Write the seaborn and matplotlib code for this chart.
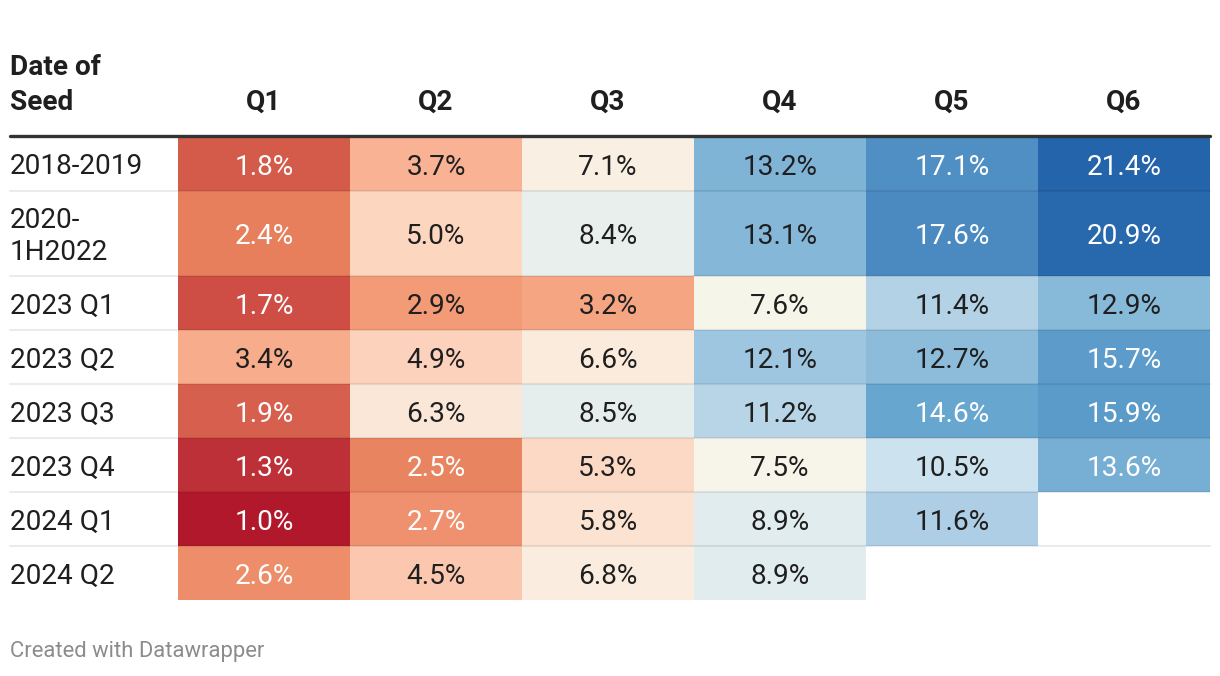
import numpy as np
import pandas as pd
import seaborn as sns
import matplotlib.pyplot as plt
from matplotlib.colors import LinearSegmentedColormap
from matplotlib.lines import Line2D
from matplotlib.transforms import offset_copy

# table data
seed_dates = ["2018-2019", "2020-\n1H2022", "2023 Q1", "2023 Q2",
              "2023 Q3", "2023 Q4", "2024 Q1", "2024 Q2"]
quarters = ["Q1", "Q2", "Q3", "Q4", "Q5", "Q6"]
q1 = [1.8, 2.4, 1.7, 3.4, 1.9, 1.3, 1.0, 2.6]
q2 = [3.7, 5.0, 2.9, 4.9, 6.3, 2.5, 2.7, 4.5]
q3 = [7.1, 8.4, 3.2, 6.6, 8.5, 5.3, 5.8, 6.8]
q4 = [13.2, 13.1, 7.6, 12.1, 11.2, 7.5, 8.9, 8.9]
q5 = [17.1, 17.6, 11.4, 12.7, 14.6, 10.5, 11.6, np.nan]
q6 = [21.4, 20.9, 12.9, 15.7, 15.9, 13.6, np.nan, np.nan]

df = pd.DataFrame({"Q1": q1, "Q2": q2, "Q3": q3, "Q4": q4, "Q5": q5, "Q6": q6},
                  index=seed_dates)
labels = df.map(lambda v: "" if pd.isna(v) else f"{v:.1f}%")

vmin, vmax = np.nanmin(df.values), np.nanmax(df.values)

# gradient stops (value, colour), diverging around the median
stops = [(1.0, "#b2182b"), (1.3, "#c0363a"), (1.8, "#d45a4a"), (2.4, "#e8825e"),
         (2.9, "#f49d7a"), (3.7, "#f9b596"), (4.9, "#fdd4be"), (5.8, "#fbe2d1"),
         (7.1, "#f9f0e3"), (7.5, "#f7f5ea"), (8.9, "#e0ecee"), (10.5, "#cde2ee"),
         (11.6, "#aecfe4"), (12.7, "#8cbcdb"), (13.6, "#78afd4"), (14.6, "#66a6cf"),
         (17.1, "#5190c4"), (21.4, "#2364aa")]
cmap = LinearSegmentedColormap.from_list(
    "dw", [((v - vmin) / (vmax - vmin), c) for v, c in stops])


def lum(rgb):
    c = [x / 12.92 if x <= 0.03928 else ((x + 0.055) / 1.055) ** 2.4 for x in rgb[:3]]
    return 0.2126 * c[0] + 0.7152 * c[1] + 0.0722 * c[2]


sns.set_theme(style="white")
plt.rcParams['font.family'] = ['Roboto', 'DejaVu Sans']

W, H = 1220, 676
fig = plt.figure(figsize=(W / 100, H / 100), dpi=100)


def fx(x):
    return x / W


def fy(y):
    return 1 - y / H


dark = "#1f1f1f"
fs = 20.2
left, right = 178, 1210
row_edges = [137, 191, 276, 330, 384, 438, 492, 546, 600]
groups = [(0, 1), (1, 2), (2, 8)]

for a, b in groups:
    ax = fig.add_axes([fx(left), fy(row_edges[b]), (right - left) / W,
                       (row_edges[b] - row_edges[a]) / H])
    sns.heatmap(df.iloc[a:b], ax=ax, cmap=cmap, vmin=vmin, vmax=vmax, cbar=False,
                annot=labels.iloc[a:b].values, fmt="",
                annot_kws={"fontsize": fs, "family": "Roboto"},
                xticklabels=False, yticklabels=False)
    ax.set_xlabel("")
    ax.set_ylabel("")
    for txt in ax.texts:
        s = txt.get_text()
        if not s:
            continue
        v = float(s.rstrip("%"))
        txt.set_color("white" if lum(cmap((v - vmin) / (vmax - vmin))) < 0.41 else dark)
        txt.set_transform(offset_copy(txt.get_transform(), fig=fig, y=-3, units="dots"))

# header
fig.text(fx(10), fy(75), "Date of", fontsize=fs, fontweight="bold", color=dark, va="baseline")
fig.text(fx(10), fy(110), "Seed", fontsize=fs, fontweight="bold", color=dark, va="baseline")
colw = (right - left) / len(quarters)
for j, q in enumerate(quarters):
    fig.text(fx(left + colw * (j + 0.5)), fy(110), q, fontsize=fs, fontweight="bold",
             color=dark, ha="center", va="baseline")

fig.add_artist(Line2D([fx(10), fx(right)], [fy(135.5), fy(135.5)], color="#333333",
                      lw=2.4, transform=fig.transFigure))

# row labels
for i, name in enumerate(seed_dates):
    yc = (row_edges[i] + row_edges[i + 1]) / 2
    fig.text(fx(10), fy(yc + 3), name, fontsize=fs, color=dark, va="center",
             linespacing=1.2)

# row separators
for y in row_edges[1:-1]:
    fig.add_artist(Line2D([fx(10), fx(right)], [fy(y), fy(y)], color="black", alpha=0.08,
                          lw=1.5, transform=fig.transFigure))

fig.text(fx(10), fy(652), "Created with Datawrapper", fontsize=15.8, color="#8c8c8c",
         va="center")

fig.savefig("out.png", dpi=100)
